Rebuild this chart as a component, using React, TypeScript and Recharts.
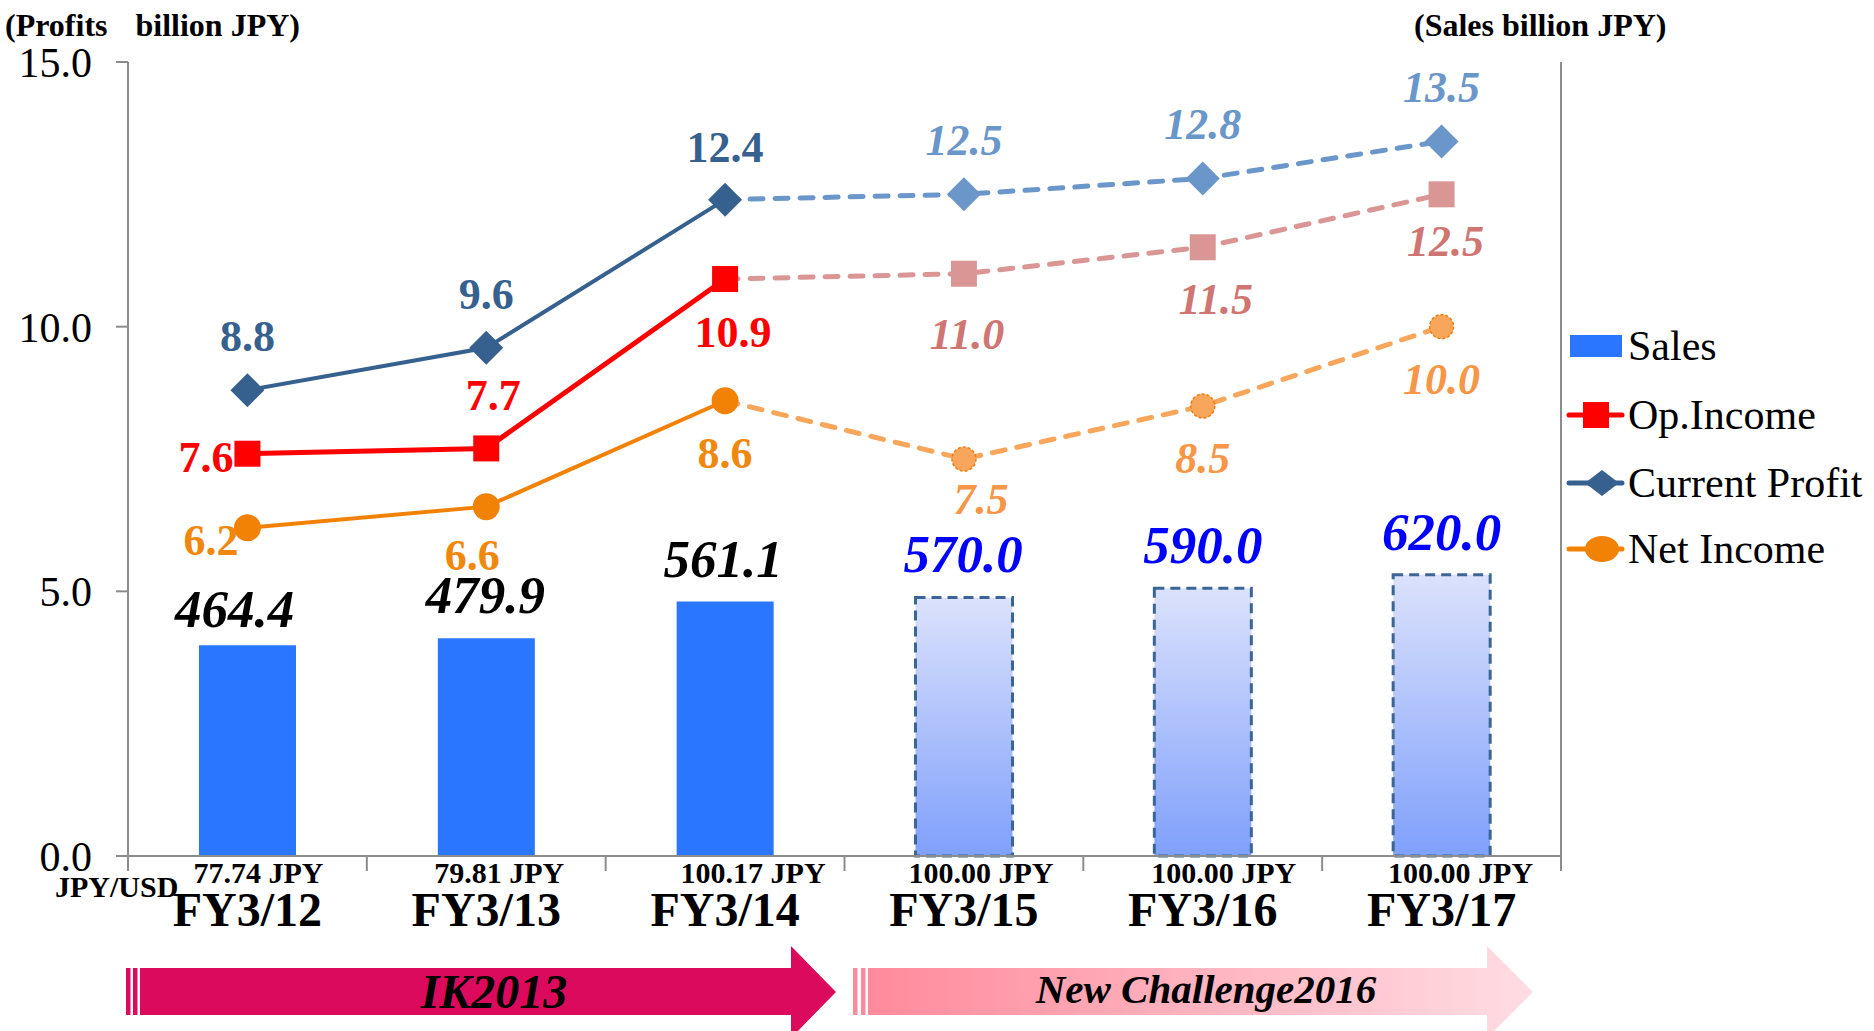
import { ComposedChart, Bar, Line, XAxis, YAxis, Cell, LabelList, Legend } from "recharts";

const FONT = "'Liberation Serif', 'Times New Roman', serif";

// Fiscal years and FX assumption (JPY/USD)
const CATEGORIES = ["FY3/12", "FY3/13", "FY3/14", "FY3/15", "FY3/16", "FY3/17"];
const FX_RATES = ["77.74 JPY", "79.81 JPY", "100.17 JPY", "100.00 JPY", "100.00 JPY", "100.00 JPY"];

// billion JPY; FY3/15 onwards are plan figures (New Challenge2016)
const SALES = [464.4, 479.9, 561.1, 570.0, 590.0, 620.0];
const OP_INCOME = [7.6, 7.7, 10.9, 11.0, 11.5, 12.5];
const CURRENT_PROFIT = [8.8, 9.6, 12.4, 12.5, 12.8, 13.5];
const NET_INCOME = [6.2, 6.6, 8.6, 7.5, 8.5, 10.0];
const LAST_ACTUAL = 2;

const PROFIT_TICKS = [0, 5, 10, 15];
const SALES_TICKS = [0, 200, 400, 600, 800, 1000, 1200, 1400, 1600];
const SALES_MAX = 1750;

// layout
const W = 1874;
const H = 1031;
const PLOT_LEFT = 128;
const PLOT_RIGHT = 1561;
const PLOT_TOP = 62;
const PLOT_BOTTOM = 856;
const BAND = (PLOT_RIGHT - PLOT_LEFT) / CATEGORIES.length;
const AXIS_GREY = "#8c8c8c";

const chartData = CATEGORIES.map((cat, i) => ({
  cat,
  sales: SALES[i],
  opA: i <= LAST_ACTUAL ? OP_INCOME[i] : null,
  opF: i >= LAST_ACTUAL ? OP_INCOME[i] : null,
  cpA: i <= LAST_ACTUAL ? CURRENT_PROFIT[i] : null,
  cpF: i >= LAST_ACTUAL ? CURRENT_PROFIT[i] : null,
  niA: i <= LAST_ACTUAL ? NET_INCOME[i] : null,
  niF: i >= LAST_ACTUAL ? NET_INCOME[i] : null,
}));

// label placement per point: [dx, dy to baseline, anchor]
const CP_LABEL_POS: [number, number, string][] = [
  [0, -39, "middle"], [0, -39, "middle"], [0, -38, "middle"],
  [0, -39, "middle"], [0, -39, "middle"], [0, -39, "middle"],
];
const OP_LABEL_POS: [number, number, string][] = [
  [-14, 18, "end"], [7, -38, "middle"], [8, 68, "middle"],
  [3, 75, "middle"], [13, 67, "middle"], [4, 62, "middle"],
];
const NI_LABEL_POS: [number, number, string][] = [
  [-9, 27, "end"], [-14, 63, "middle"], [0, 67, "middle"],
  [17, 55, "middle"], [0, 67, "middle"], [0, 67, "middle"],
];
const SALES_LABEL_POS: [number, number][] = [[-13, -18], [-1, -25], [-2, -24], [-1, -25], [0, -25], [0, -25]];
const FX_DX = [11, 13, 28, 17, 21, 19];

const profitLabel =
  (pos: [number, number, string][], color: string, italic: boolean, skip: number) => (props: any) => {
    const vb = props.viewBox || {};
    const x = props.x ?? vb.x;
    const y = props.y ?? vb.y;
    const { value, index } = props;
    if (value == null || index === skip || x == null || y == null) return null;
    const [dx, dy, anchor] = pos[index];
    return (
      <text
        key={`lbl-${index}`}
        x={x + dx}
        y={y + dy}
        textAnchor={anchor as any}
        fill={color}
        fontSize={44}
        fontWeight="bold"
        fontStyle={italic ? "italic" : "normal"}
        fontFamily={FONT}
      >
        {Number(value).toFixed(1)}
      </text>
    );
  };

const salesLabel = (props: any) => {
  const vb = props.viewBox || props;
  const { value, index } = props;
  if (value == null) return null;
  const [dx, dy] = SALES_LABEL_POS[index];
  return (
    <text
      key={`sl-${index}`}
      x={vb.x + vb.width / 2 + dx}
      y={vb.y + dy}
      textAnchor="middle"
      fill={index <= LAST_ACTUAL ? "#000" : "#0000ff"}
      fontSize={53}
      fontWeight="bold"
      fontStyle="italic"
      fontFamily={FONT}
    >
      {Number(value).toFixed(1)}
    </text>
  );
};

const diamondDot = (fill: string, skip: number) => (props: any) => {
  const { cx, cy, index } = props;
  if (cy == null || index === skip) return <g key={`dd-${index}`} />;
  const w = 17;
  const h = 17;
  return (
    <polygon
      key={`dd-${index}`}
      points={`${cx - w},${cy} ${cx},${cy - h} ${cx + w},${cy} ${cx},${cy + h}`}
      fill={fill}
    />
  );
};

const squareDot = (fill: string, skip: number) => (props: any) => {
  const { cx, cy, index } = props;
  if (cy == null || index === skip) return <g key={`sd-${index}`} />;
  const s = 13;
  return <rect key={`sd-${index}`} x={cx - s} y={cy - s} width={s * 2} height={s * 2} fill={fill} />;
};

const circleDot = (fill: string, skip: number, stroke?: string) => (props: any) => {
  const { cx, cy, index } = props;
  if (cy == null || index === skip) return <g key={`cd-${index}`} />;
  return (
    <circle
      key={`cd-${index}`}
      cx={cx}
      cy={cy}
      r={stroke ? 12 : 13.5}
      fill={fill}
      stroke={stroke || "none"}
      strokeWidth={1.5}
      strokeDasharray={stroke ? "3 2" : undefined}
    />
  );
};

const CategoryTick = (props: any) => {
  const { x, payload } = props;
  const i = CATEGORIES.indexOf(payload.value);
  const left = x - BAND / 2;
  return (
    <g>
      <line x1={left} x2={left} y1={PLOT_BOTTOM} y2={PLOT_BOTTOM + 15} stroke={AXIS_GREY} strokeWidth={2} />
      {i === CATEGORIES.length - 1 && (
        <line x1={x + BAND / 2} x2={x + BAND / 2} y1={PLOT_BOTTOM} y2={PLOT_BOTTOM + 15} stroke={AXIS_GREY} strokeWidth={2} />
      )}
      <text x={x + FX_DX[i]} y={883} textAnchor="middle" fontSize={30} fontWeight="bold" fill="#000" fontFamily={FONT}>
        {FX_RATES[i]}
      </text>
      <text x={x} y={926} textAnchor="middle" fontSize={48} fontWeight="bold" fill="#000" fontFamily={FONT}>
        {payload.value}
      </text>
    </g>
  );
};

const LEGEND_ITEMS = [
  { name: "Sales", kind: "bar", color: "#2b76ff" },
  { name: "Op.Income", kind: "square", color: "#ff0000" },
  { name: "Current Profit", kind: "diamond", color: "#36618f" },
  { name: "Net Income", kind: "circle", color: "#f28205" },
];
const LEGEND_ROW_Y = [26, 95, 163, 229];

const renderLegend = () => (
  <svg width={320} height={260} style={{ overflow: "visible", display: "block" }}>
    {LEGEND_ITEMS.map((item, i) => {
      const cy = LEGEND_ROW_Y[i];
      return (
        <g key={item.name}>
          {item.kind === "bar" ? (
            <rect x={10} y={cy - 11} width={52} height={22} fill={item.color} />
          ) : (
            <line x1={9} x2={62} y1={cy} y2={cy} stroke={item.color} strokeWidth={5} strokeLinecap="round" />
          )}
          {item.kind === "square" && <rect x={23} y={cy - 13} width={26} height={26} fill={item.color} />}
          {item.kind === "diamond" && (
            <polygon points={`${25},${cy} ${42},${cy - 13} ${59},${cy} ${42},${cy + 13}`} fill={item.color} />
          )}
          {item.kind === "circle" && <ellipse cx={42} cy={cy} rx={17} ry={13} fill={item.color} />}
          <text x={68} y={cy + 14} fontSize={42} fill="#000" fontFamily={FONT}>
            {item.name}
          </text>
        </g>
      );
    })}
  </svg>
);

const Overlay = () => (
  <svg width={W} height={H} style={{ position: "absolute", left: 0, top: 0, pointerEvents: "none" }}>
    <defs>
      <linearGradient id="ncGrad" x1="0" y1="0" x2="1" y2="0">
        <stop offset="0%" stopColor="#ff8a9c" />
        <stop offset="100%" stopColor="#ffdde3" />
      </linearGradient>
    </defs>
    <text x={5} y={36} fontSize={32} fontWeight="bold" fill="#000" fontFamily={FONT}>
      (Profits<tspan dx={28}>billion JPY)</tspan>
    </text>
    <text x={1414} y={36} fontSize={32} fontWeight="bold" fill="#000" fontFamily={FONT}>
      (Sales billion JPY)
    </text>
    <text x={55} y={897} fontSize={30} fontWeight="bold" fill="#000" fontFamily={FONT}>
      JPY/USD
    </text>

    {/* IK2013 arrow */}
    <rect x={126} y={968} width={4.5} height={47} fill="#dc0a5c" />
    <rect x={133} y={968} width={4.5} height={47} fill="#dc0a5c" />
    <polygon points="140,968 791,968 791,946 836,992 791,1038 791,1015 140,1015" fill="#dc0a5c" />
    <text x={494} y={1008} textAnchor="middle" fontSize={48} fontWeight="bold" fontStyle="italic" fill="#000" fontFamily={FONT}>
      IK2013
    </text>

    {/* New Challenge2016 arrow */}
    <rect x={853} y={968} width={4.5} height={47} fill="#ff8a9c" />
    <rect x={861} y={968} width={4.5} height={47} fill="#ff8a9c" />
    <polygon points="868,968 1487,968 1487,946 1533,992 1487,1038 1487,1015 868,1015" fill="url(#ncGrad)" />
    <text x={1206} y={1003} textAnchor="middle" fontSize={41} fontWeight="bold" fontStyle="italic" fill="#000" fontFamily={FONT}>
      New Challenge2016
    </text>
  </svg>
);

const App = () => {
  return (
    <div style={{ position: "absolute", left: 0, top: 0, width: W, height: H, background: "#fff", fontFamily: FONT }}>
      <ComposedChart
        width={W}
        height={H}
        data={chartData}
        margin={{ top: PLOT_TOP, right: W - PLOT_RIGHT - 60, bottom: H - PLOT_BOTTOM - 60, left: 0 }}
      >
        <defs>
          <linearGradient id="salesPlanGrad" x1="0" y1="0" x2="0" y2="1">
            <stop offset="0%" stopColor="#dce2fc" />
            <stop offset="100%" stopColor="#7fa0fb" />
          </linearGradient>
        </defs>
        <XAxis
          dataKey="cat"
          height={60}
          interval={0}
          axisLine={{ stroke: AXIS_GREY, strokeWidth: 2 }}
          tickLine={false}
          tick={CategoryTick}
        />
        <YAxis
          yAxisId="left"
          width={PLOT_LEFT}
          domain={[0, 15]}
          ticks={PROFIT_TICKS}
          tickFormatter={(v: number) => v.toFixed(1)}
          axisLine={{ stroke: AXIS_GREY, strokeWidth: 2 }}
          tickLine={{ stroke: AXIS_GREY, strokeWidth: 2 }}
          tickSize={12}
          tickMargin={24}
          tick={{ fill: "#000", fontSize: 42, fontFamily: FONT }}
        />
        <YAxis
          yAxisId="right"
          orientation="right"
          width={60}
          domain={[0, SALES_MAX]}
          ticks={SALES_TICKS}
          axisLine={{ stroke: AXIS_GREY, strokeWidth: 2 }}
          tickLine={{ stroke: AXIS_GREY, strokeWidth: 2 }}
          tickSize={13}
          tick={false}
        />
        <Legend
          content={renderLegend}
          wrapperStyle={{ position: "absolute", left: 1560, top: 320, width: 0, height: 0, overflow: "visible" }}
        />

        <Bar yAxisId="right" dataKey="sales" name="Sales" barSize={97} isAnimationActive={false}>
          {SALES.map((_, i) =>
            i <= LAST_ACTUAL ? (
              <Cell key={i} fill="#2b76ff" />
            ) : (
              <Cell key={i} fill="url(#salesPlanGrad)" stroke="#3b6595" strokeWidth={3} strokeDasharray="10 6" />
            )
          )}
          <LabelList dataKey="sales" content={salesLabel} />
        </Bar>

        {/* plan segments (dashed, lighter) */}
        <Line yAxisId="left" dataKey="opF" name="Op.Income plan" stroke="#d99694" strokeWidth={5} strokeDasharray="13 12" strokeLinecap="round"
          dot={squareDot("#d99694", LAST_ACTUAL)} activeDot={false} isAnimationActive={false} connectNulls={false}>
          <LabelList dataKey="opF" content={profitLabel(OP_LABEL_POS, "#cf7672", true, LAST_ACTUAL)} />
        </Line>
        <Line yAxisId="left" dataKey="cpF" name="Current Profit plan" stroke="#6a96c9" strokeWidth={5} strokeDasharray="13 12" strokeLinecap="round"
          dot={diamondDot("#6a96c9", LAST_ACTUAL)} activeDot={false} isAnimationActive={false} connectNulls={false}>
          <LabelList dataKey="cpF" content={profitLabel(CP_LABEL_POS, "#6a96c9", true, LAST_ACTUAL)} />
        </Line>
        <Line yAxisId="left" dataKey="niF" name="Net Income plan" stroke="#f8a65c" strokeWidth={5} strokeDasharray="13 12" strokeLinecap="round"
          dot={circleDot("#f8a65c", LAST_ACTUAL, "#ee7d10")} activeDot={false} isAnimationActive={false} connectNulls={false}>
          <LabelList dataKey="niF" content={profitLabel(NI_LABEL_POS, "#f79646", true, LAST_ACTUAL)} />
        </Line>

        {/* actual results */}
        <Line yAxisId="left" dataKey="opA" name="Op.Income" stroke="#ff0000" strokeWidth={5}
          dot={squareDot("#ff0000", -1)} activeDot={false} isAnimationActive={false} connectNulls={false}>
          <LabelList dataKey="opA" content={profitLabel(OP_LABEL_POS, "#ff0000", false, -1)} />
        </Line>
        <Line yAxisId="left" dataKey="cpA" name="Current Profit" stroke="#36618f" strokeWidth={4}
          dot={diamondDot("#36618f", -1)} activeDot={false} isAnimationActive={false} connectNulls={false}>
          <LabelList dataKey="cpA" content={profitLabel(CP_LABEL_POS, "#36618f", false, -1)} />
        </Line>
        <Line yAxisId="left" dataKey="niA" name="Net Income" stroke="#f28205" strokeWidth={4}
          dot={circleDot("#f28205", -1)} activeDot={false} isAnimationActive={false} connectNulls={false}>
          <LabelList dataKey="niA" content={profitLabel(NI_LABEL_POS, "#f0880e", false, -1)} />
        </Line>
      </ComposedChart>
      <Overlay />
    </div>
  );
};

export default App;
